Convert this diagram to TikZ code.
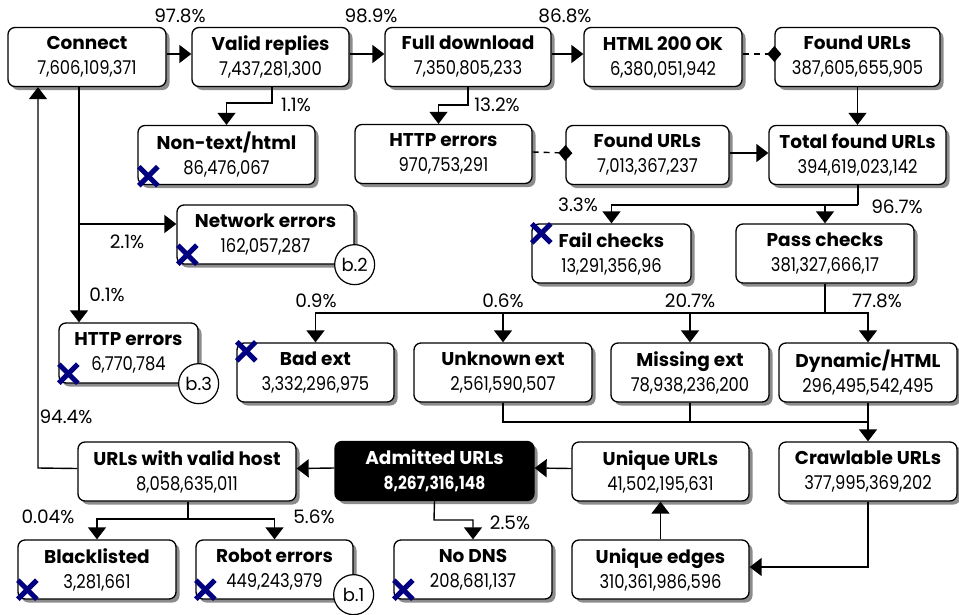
\documentclass[tikz,border=0pt]{standalone}
\usepackage{fontspec}
\setmainfont{Poppins}
\newfontfamily\numfont[FakeStretch=0.86]{Poppins}
\usetikzlibrary{arrows.meta,shadows,calc}
\definecolor{xnavy}{RGB}{0,0,128}
\newcommand{\boxfont}{\numfont\fontsize{19}{25}\selectfont}
\newcommand{\ttl}[1]{{\normalfont\fontsize{18.5}{25}\selectfont\bfseries #1}}
\tikzset{
  box/.style={draw, line width=1.3pt, rounded corners=7pt, fill=white,
    align=center, minimum height=59pt, inner sep=0pt, font=\boxfont,
    drop shadow={shadow xshift=3.5pt, shadow yshift=-3.5pt, fill=black!45, opacity=1}},
  darkbox/.style={box, fill=black, text=white, font=\numfont\fontsize{18}{25}\selectfont\bfseries},
  link/.style={draw, line width=1.4pt},
  arr/.style={link, -{Triangle[length=12pt,width=18pt]}},
  dia/.style={link, dash pattern=on 6pt off 5pt,
    -{Diamond[length=14pt,width=16pt]}, shorten >=-7pt},
  pct/.style={font=\fontsize{18.5}{22}\selectfont, inner sep=0pt},
  badge/.style={draw, circle, line width=1.2pt, fill=white, minimum size=40pt,
    inner sep=0pt, font=\fontsize{18}{22}\selectfont},
  pics/xm/.style={code={\draw[xnavy, line width=5pt] (-9.5,-9.5) -- (9.5,9.5) (-9.5,9.5) -- (9.5,-9.5);}}
}
\begin{document}
\begin{tikzpicture}[x=1pt,y=-1pt]
\useasboundingbox (0,0) rectangle (959,614);

% row 1
\node[box, minimum width=158pt] (con)   at (87,57)    {\ttl{Connect}\\7,606,109,371};
\node[box, minimum width=157pt] (val)   at (270.5,57) {\ttl{Valid replies}\\7,437,281,300};
\node[box, minimum width=166pt] (full)  at (468,57)   {\ttl{Full download}\\7,350,805,233};
\node[box, minimum width=158pt] (html)  at (663,57)   {\ttl{HTML 200 OK}\\6,380,051,942};
\node[box, minimum width=165pt] (furla) at (857.5,57) {\ttl{Found URLs}\\387,605,655,905};

% row 2
\node[box, minimum width=177pt] (nontext) at (226.5,155) {\ttl{Non-text/html}\\86,476,067};
\node[box, minimum width=177pt] (httpm)   at (443.5,154) {\ttl{HTTP errors}\\970,753,291};
\node[box, minimum width=163pt] (furlb)   at (647.5,155) {\ttl{Found URLs}\\7,013,367,237};
\node[box, minimum width=177pt] (total)   at (857.5,155) {\ttl{Total found URLs}\\394,619,023,142};

% row 3
\node[box, minimum width=177pt] (net)   at (265.5,234.5) {\ttl{Network errors}\\162,057,287};
\node[box, minimum width=159pt] (fail)  at (611.5,253.5) {\ttl{Fail checks}\\13,291,356,96};
\node[box, minimum width=178pt] (pass)  at (825,253.5)   {\ttl{Pass checks}\\381,327,666,17};
\node[box, minimum width=139pt, minimum height=60pt] (httpl) at (128.5,353) {\ttl{HTTP errors}\\6,770,784};

% row 4
\node[box, minimum width=157pt] (bad)  at (315.5,372.5) {\ttl{Bad ext}\\3,332,296,975};
\node[box, minimum width=178pt] (unk)  at (503,372.5)   {\ttl{Unknown ext}\\2,561,590,507};
\node[box, minimum width=158pt] (miss) at (690,372.5)   {\ttl{Missing ext}\\78,938,236,200};
\node[box, minimum width=178pt] (dyn)  at (868,372.5)   {\ttl{Dynamic/HTML}\\296,495,542,495};

% row 5
\node[box, minimum width=218pt] (host)  at (187,471.5)  {\ttl{URLs with valid host}\\8,058,635,011};
\node[darkbox, minimum width=199pt] (adm) at (434.5,471) {\ttl{Admitted URLs}\\8,267,316,148};
\node[box, minimum width=177pt] (uurl)  at (660.5,471.5) {\ttl{Unique URLs}\\41,502,195,631};
\node[box, minimum width=178pt] (crawl) at (868,471.5)   {\ttl{Crawlable URLs}\\377,995,369,202};

% row 6
\node[box, minimum width=158pt] (black) at (97,569.5)    {\ttl{Blacklisted}\\3,281,661};
\node[box, minimum width=157pt] (robot) at (274.5,569.5) {\ttl{Robot errors}\\449,243,979};
\node[box, minimum width=158pt] (nodns) at (473,569.5)   {\ttl{No DNS}\\208,681,137};
\node[box, minimum width=177pt] (uedge) at (660.5,569.5) {\ttl{Unique edges}\\310,361,986,596};

% branch points
\coordinate (vbr) at (272,103);
\coordinate (fbr) at (468,105);
\coordinate (tbr) at (858,205);
\coordinate (pbr) at (825,313);
\coordinate (cbr) at (79,224);
\coordinate (kbr) at (868,422);
\coordinate (abr) at (434,520);
\coordinate (hbr) at (188,519);
\coordinate (rbr) at (38,468);

% main flow along the top
\draw[arr] ([yshift=3pt]con.east)  -- ([yshift=3pt]val.west);
\draw[arr] ([yshift=3pt]val.east)  -- ([yshift=3pt]full.west);
\draw[arr] ([yshift=3pt]full.east) -- ([yshift=3pt]html.west);
\draw[dia] ([yshift=3pt]html.east) -- ([yshift=3pt]furla.west);
\draw[arr] (furla.south) -- (total.north);

% side branches of the first row
\draw[arr] (val.south -| vbr) -- (vbr) -| (nontext.north);
\draw[arr] (full.south -| fbr) -- (fbr) -| ([xshift=-5pt]httpm.north);
\draw[dia] ([yshift=2pt]httpm.east) -- ([yshift=2pt]furlb.west);
\draw[arr] ([yshift=2pt]furlb.east) -- ([yshift=2pt]total.west);

% checks
\draw[link] (total.south -| tbr) -- (tbr);
\draw[arr] (tbr) -| (fail.north);
\draw[arr] (pass.north |- tbr) -- (pass.north);

% extension classes
\draw[link] (pass.south) -- (pbr);
\draw[arr] (pbr) -| (dyn.north);
\draw[arr] (pbr) -| (bad.north);
\draw[arr] (unk.north |- pbr) -- (unk.north);
\draw[arr] (miss.north |- pbr) -- (miss.north);

% connection failures
\draw[arr] (79,0 |- con.south) -- (79,0 |- httpl.north);
\draw[arr] (cbr) -- (cbr -| net.west);

% crawlable set and back to the start
\draw[link] (unk.south) |- (kbr);
\draw[link] (miss.south) -- (miss.south |- kbr);
\draw[arr] (dyn.south) -- (crawl.north);
\draw[arr] (crawl.south) |- ([yshift=2.5pt]uedge.east);
\draw[arr] (uedge.north) -- (uurl.south);
\draw[arr] ([yshift=3pt]uurl.west) -- ([yshift=3pt]adm.east);
\draw[arr] ([yshift=3pt]adm.west) -- ([yshift=3pt]host.east);
\draw[arr] (adm.south) -- (abr) -| (nodns.north);
\draw[link] (host.south -| hbr) -- (hbr);
\draw[arr] (hbr) -| (black.north);
\draw[arr] (hbr) -| (robot.north);
\draw[arr] ([yshift=3pt]host.west) -- (rbr) -- (rbr |- con.south);

% percentages
\node[pct] (p978) at (180,16)  {97.8\%};
\node[pct] (p989) at (371,16)  {98.9\%};
\node[pct] (p868) at (565,16)  {86.8\%};
\node[pct] (p11)  at (296,105) {1.1\%};
\node[pct] (p132) at (497,105) {13.2\%};
\node[pct] (p21)  at (127,242) {2.1\%};
\node[pct] (p01)  at (107,295) {0.1\%};
\node[pct] (p33)  at (578,205) {3.3\%};
\node[pct] (p967) at (897,207) {96.7\%};
\node[pct] (p09)  at (316,301) {0.9\%};
\node[pct] (p06)  at (503,301) {0.6\%};
\node[pct] (p207) at (690,301) {20.7\%};
\node[pct] (p778) at (877,301) {77.8\%};
\node[pct] (p944) at (66,417)  {94.4\%};
\node[pct] (p004) at (48,517)  {0.04\%};
\node[pct] (p56)  at (314,517) {5.6\%};
\node[pct] (p25)  at (510,523) {2.5\%};

% discarded sets
\pic at ([xshift=11pt,yshift=9pt]nontext.south west) {xm};
\pic at ([xshift=11pt,yshift=10pt]net.south west) {xm};
\pic at ([xshift=10pt,yshift=10pt]httpl.south west) {xm};
\pic at ([xshift=10pt,yshift=-9pt]bad.north west) {xm};
\pic at ([xshift=10pt,yshift=-10pt]fail.north west) {xm};
\pic at ([xshift=10pt,yshift=10pt]black.south west) {xm};
\pic at ([xshift=10pt,yshift=10pt]robot.south west) {xm};
\pic at ([xshift=10pt,yshift=10pt]nodns.south west) {xm};

% references
\node[badge] (b1) at ([yshift=5pt]robot.south east) {b.1};
\node[badge] (b2) at (net.south east) {b.2};
\node[badge] (b3) at (httpl.south east) {b.3};
\end{tikzpicture}
\end{document}
